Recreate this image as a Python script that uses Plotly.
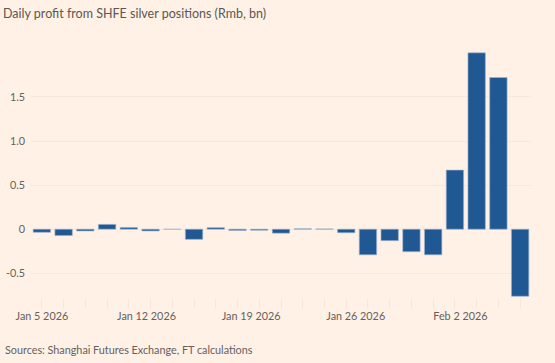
import plotly.graph_objects as go
from datetime import date

# Data: daily profit (Rmb bn), one bar per slot
slots = list(range(23))
profit = [-0.035, -0.072, -0.02, 0.055, 0.02, -0.02, 0.0, -0.115, 0.018, -0.015,
          -0.012, -0.045, 0.005, 0.003, -0.04, -0.29, -0.13, -0.255, -0.29,
          0.67, 2.0, 1.72, -0.76]

tick_dates = [date(2026, 1, 5), date(2026, 1, 12), date(2026, 1, 19),
              date(2026, 1, 26), date(2026, 2, 2)]
tick_text = ["Jan 5 2026", "Jan 12 2026", "Jan 19 2026", "Jan 26 2026", "Feb 2 2026"]
y_ticks = [-0.5, 0, 0.5, 1.0, 1.5]
y_text = ["-0.5", "0", "0.5", "1.0", "1.5"]

start = date(2026, 1, 5)
end = date(2026, 2, 6)
scale = (len(slots) - 1) / (end - start).days
tick_pos = [(d - start).days * scale for d in tick_dates]

BG = "#fff1e5"
TXT = "#66605c"
FONT = "Lato"
TS = 10.8

fig = go.Figure()
fig.add_trace(go.Bar(
    x=slots, y=profit, width=0.8,
    marker=dict(color="#1f5893", line=dict(color="rgba(160,180,210,0.8)", width=0.8)),
    hoverinfo="y",
))

fig.update_layout(
    width=555, height=363,
    paper_bgcolor=BG, plot_bgcolor=BG,
    margin=dict(l=31, r=24, t=44, b=65, autoexpand=False),
    showlegend=False,
    font=dict(family=FONT, size=TS, color=TXT),
    title=dict(text="Daily profit from SHFE silver positions (Rmb, bn)",
               x=3 / 555, xanchor="left", y=1 - 14 / 363, yanchor="middle",
               font=dict(family=FONT, size=12.5, color="#5c5652")),
    annotations=[dict(text="Sources: Shanghai Futures Exchange, FT calculations",
                      xref="paper", yref="paper", x=-28 / 500, xanchor="left",
                      y=-(349 - 298) / 254, yanchor="middle", showarrow=False,
                      font=dict(family=FONT, size=TS, color=TXT))],
)
fig.update_xaxes(
    range=[-0.5, 22.5], tickvals=tick_pos, ticktext=tick_text,
    showgrid=False, zeroline=False, showline=False, automargin=False,
    ticks="", tickfont=dict(size=TS, color=TXT), ticklabelstandoff=10,
    minor=dict(dtick=1, tick0=0, ticks="outside", ticklen=9, tickcolor="#f7e6d8", tickwidth=1),
    fixedrange=True,
)
fig.update_yaxes(
    range=[-0.78, 2.1], tickvals=y_ticks, ticktext=y_text,
    showgrid=True, gridcolor="#f8e8db", gridwidth=1, automargin=False,
    zeroline=False, showline=False, ticks="", ticklabelstandoff=5,
    tickfont=dict(size=TS, color=TXT), fixedrange=True,
)

fig.write_html("out.html", config={"displayModeBar": False},
               post_script="document.body.style.margin='0px';")
